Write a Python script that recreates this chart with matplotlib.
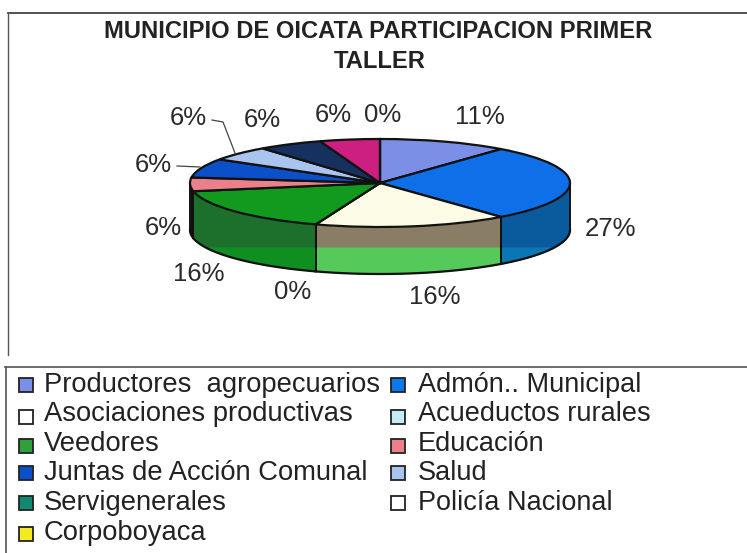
import numpy as np
import matplotlib
matplotlib.use('Agg')
import matplotlib.pyplot as plt
from matplotlib.patches import Rectangle

plt.rcParams['font.family'] = ['Liberation Sans', 'DejaVu Sans']

W, H = 747, 553

title_lines = ['MUNICIPIO DE OICATA PARTICIPACION PRIMER', 'TALLER']

# slice shares as they look in the picture, the printed labels are rounded differently
shares = [11, 28, 16.5, 0, 16.5, 5, 7, 5.4, 5.5, 5.1, 0]
pct_labels = ['11%', '27%', '16%', '0%', '16%', '6%', '6%', '6%', '6%', '6%', '0%']
top_colors = ['#7b8fe6', '#0f6fe8', '#fbfbe6', '#c4ecf4', '#129a1e', '#e9808a',
              '#0b50c8', '#a9c4ee', '#16305f', '#cc1f80', '#f2ea20']
side_upper = ['#5566a8', '#0a5a9e', '#8a7d66', '#8ab0b8', '#1d6f2c', '#111111',
              '#111111', '#6c82a8', '#0f2040', '#8a1458', '#a8a010']
side_lower = ['#5566a8', '#0b76b4', '#55c95a', '#8ab0b8', '#0f8f22', '#111111',
              '#111111', '#6c82a8', '#0f2040', '#8a1458', '#a8a010']

legend_left = ['Productores  agropecuarios', 'Asociaciones productivas', 'Veedores',
               'Juntas de Acción Comunal', 'Servigenerales', 'Corpoboyaca']
legend_left_colors = ['#7b8fe6', '#ffffff', '#2fa03a', '#0b50c8', '#128a72', '#f5ea20']
legend_right = ['Admón.. Municipal', 'Acueductos rurales', 'Educación', 'Salud', 'Policía Nacional']
legend_right_colors = ['#0f78e8', '#c4ecf4', '#e9808a', '#a9c4ee', '#ffffff']

# pie geometry in pixels
CX, CY, RX, RY, DEPTH = 380, 183, 190, 44, 47
BAND_Y = 247

fig = plt.figure(figsize=(W / 100, H / 100), dpi=100)

# overlay in pixel coordinates for frame and text
ax = fig.add_axes([0, 0, 1, 1], zorder=2)
ax.set_xlim(0, W)
ax.set_ylim(H, 0)
ax.axis('off')
ax.patch.set_alpha(0)

# pie axes: unit circle squeezed to the ellipse
pie_ax = fig.add_axes([(CX - RX) / W, 1 - (CY + RY) / H, 2 * RX / W, 2 * RY / H], zorder=1)
pie_ax.pie(shares, colors=top_colors, startangle=90, counterclock=False, radius=1,
           wedgeprops=dict(edgecolor='#111111', linewidth=1.6))
pie_ax.set_aspect('auto')
pie_ax.set_xlim(-1, 1)
pie_ax.set_ylim(-1, 1)

depth = 2 * DEPTH / (2 * RY)
band = -(BAND_Y - CY) / RY
edges = np.cumsum([0] + shares) / 100 * 360
for i in range(len(shares)):
    a = max(edges[i], 90)
    b = min(edges[i + 1], 270)
    if b <= a:
        continue
    phi = np.radians(np.linspace(a, b, 80))
    x = np.sin(phi)
    ytop = np.cos(phi)
    ybot = ytop - depth
    pie_ax.fill_between(x, ybot, ytop, color=side_upper[i], lw=0, clip_on=False, zorder=0)
    pie_ax.fill_between(x, ybot, np.minimum(ytop, band), where=ybot < band,
                        color=side_lower[i], lw=0, clip_on=False, zorder=0)
    pie_ax.plot(x, ybot, color='#111111', lw=1.6, clip_on=False, zorder=1)
    pie_ax.plot([x[0], x[0]], [ytop[0], ybot[0]], color='#111111', lw=1.4, clip_on=False, zorder=1)
    pie_ax.plot([x[-1], x[-1]], [ytop[-1], ybot[-1]], color='#111111', lw=1.4, clip_on=False, zorder=1)

# frames, scanned lines
ax.plot([8, W], [13, 13], color='#444444', lw=1.3)
ax.plot([8, 8], [13, 355], color='#555555', lw=1.0)
ax.plot([5, W], [367, 367], color='#555555', lw=1.2)
ax.plot([6, 6], [367, H], color='#555555', lw=1.2)

ax.text(378, 32, title_lines[0], fontsize=17.1, fontweight='bold', ha='center', va='center', color='#222222')
ax.text(380, 62, title_lines[1], fontsize=17.1, fontweight='bold', ha='center', va='center', color='#222222')

# data labels, in slice order
label_pos = [(480, 117), (610, 229), (435, 297), (293, 292), (199, 274),
             (163, 228), (153, 165), (188, 118), (262, 120), (333, 115), (383, 115)]
for s, (px, py) in zip(pct_labels, label_pos):
    t = ax.text(px, py, s, fontsize=18.5, ha='center', va='center', color='#2a2a2a')
    if px == 262:
        t.set_clip_path(Rectangle((230, 100), 70, 25, transform=ax.transData))

# leader lines
ax.plot([212, 223, 235], [120, 122, 153], color='#444444', lw=0.9)
ax.plot([177, 200], [166, 167], color='#444444', lw=0.9)

# legend
rows = [385, 414, 444, 473, 503, 533]
swatch_rows = [385, 417, 446, 473, 503, 534]
for y, sy, s, c in zip(rows, swatch_rows, legend_left, legend_left_colors):
    ax.add_patch(Rectangle((19, sy - 7), 14, 14, facecolor=c, edgecolor='#222222', lw=1.3))
    ax.text(44, y, s, fontsize=19.7, ha='left', va='center', color='#222222')
for y, sy, s, c in zip(rows, swatch_rows, legend_right, legend_right_colors):
    ax.add_patch(Rectangle((391, sy - 7), 14, 14, facecolor=c, edgecolor='#222222', lw=1.3))
    ax.text(418, y, s, fontsize=19.5, ha='left', va='center', color='#222222')

fig.savefig('out.png', dpi=100)
